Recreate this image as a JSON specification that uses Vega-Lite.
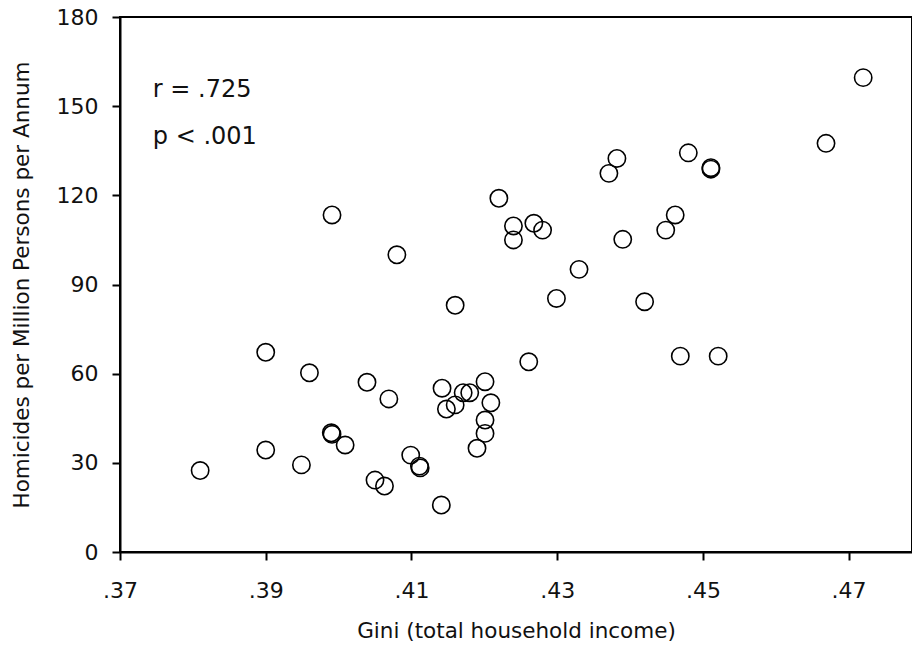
{
  "$schema": "https://vega.github.io/schema/vega-lite/v6.json",
  "width": 792,
  "height": 535,
  "autosize": {"type": "none"},
  "padding": {"left": 120, "top": 17, "right": 0, "bottom": 94},
  "background": "white",
  "config": {
    "view": {"stroke": "black", "strokeWidth": 2},
    "font": "DejaVu Sans",
    "axis": {
      "grid": false,
      "domainColor": "black",
      "domainWidth": 2,
      "tickColor": "black",
      "tickWidth": 2,
      "tickSize": 8,
      "labelColor": "#111",
      "titleColor": "#111",
      "labelFont": "DejaVu Sans",
      "titleFont": "DejaVu Sans",
      "titleFontWeight": "normal",
      "labelFontSize": 22,
      "titleFontSize": 21.5,
      "labelFlush": false,
      "labelOverlap": false
    }
  },
  "layer": [
    {
      "data": {
        "values": [
          {"gini": 0.381, "hom": 27.4},
          {"gini": 0.390, "hom": 67.2},
          {"gini": 0.390, "hom": 34.3},
          {"gini": 0.3949, "hom": 29.3},
          {"gini": 0.3960, "hom": 60.3},
          {"gini": 0.3991, "hom": 113.4},
          {"gini": 0.3990, "hom": 40.1},
          {"gini": 0.3991, "hom": 39.6},
          {"gini": 0.4009, "hom": 36.0},
          {"gini": 0.4039, "hom": 57.1},
          {"gini": 0.4050, "hom": 24.2},
          {"gini": 0.4063, "hom": 22.2},
          {"gini": 0.4069, "hom": 51.5},
          {"gini": 0.4080, "hom": 100.0},
          {"gini": 0.4099, "hom": 32.6},
          {"gini": 0.4111, "hom": 28.9},
          {"gini": 0.4112, "hom": 28.3},
          {"gini": 0.4141, "hom": 15.8},
          {"gini": 0.4142, "hom": 55.1},
          {"gini": 0.4148, "hom": 48.1},
          {"gini": 0.4160, "hom": 49.5},
          {"gini": 0.4160, "hom": 83.0},
          {"gini": 0.4171, "hom": 53.6},
          {"gini": 0.4180, "hom": 53.6},
          {"gini": 0.4190, "hom": 34.9},
          {"gini": 0.4201, "hom": 57.3},
          {"gini": 0.4209, "hom": 50.2},
          {"gini": 0.4201, "hom": 44.4},
          {"gini": 0.4201, "hom": 39.9},
          {"gini": 0.4220, "hom": 119.0},
          {"gini": 0.4240, "hom": 109.7},
          {"gini": 0.4240, "hom": 105.0},
          {"gini": 0.4261, "hom": 64.0},
          {"gini": 0.4268, "hom": 110.6},
          {"gini": 0.4280, "hom": 108.3},
          {"gini": 0.4299, "hom": 85.3},
          {"gini": 0.4330, "hom": 95.1},
          {"gini": 0.4371, "hom": 127.4},
          {"gini": 0.4382, "hom": 132.4},
          {"gini": 0.4390, "hom": 105.2},
          {"gini": 0.4420, "hom": 84.2},
          {"gini": 0.4449, "hom": 108.3},
          {"gini": 0.4462, "hom": 113.4},
          {"gini": 0.4469, "hom": 65.9},
          {"gini": 0.4480, "hom": 134.3},
          {"gini": 0.4511, "hom": 129.3},
          {"gini": 0.4511, "hom": 128.8},
          {"gini": 0.4521, "hom": 65.9},
          {"gini": 0.4669, "hom": 137.5},
          {"gini": 0.4720, "hom": 159.6}
        ]
      },
      "mark": {"type": "point", "shape": "circle", "filled": false, "size": 300, "stroke": "black", "strokeWidth": 1.6, "opacity": 1},
      "encoding": {
        "x": {
          "field": "gini",
          "type": "quantitative",
          "scale": {"domain": [0.37, 0.4787], "nice": false, "zero": false},
          "axis": {
            "title": "Gini (total household income)",
            "values": [0.37, 0.39, 0.41, 0.43, 0.45, 0.47],
            "labelExpr": "substring(format(datum.value, '.2f'), 1)",
            "labelPadding": 20,
            "titlePadding": 19
          }
        },
        "y": {
          "field": "hom",
          "type": "quantitative",
          "scale": {"domain": [0, 180], "nice": false},
          "axis": {
            "title": "Homicides per Million Persons per Annum",
            "values": [0, 30, 60, 90, 120, 150, 180],
            "labelPadding": 14,
            "titlePadding": 23
          }
        }
      }
    },
    {
      "data": {
        "values": [
          {"x": 0.3745, "y": 155.5, "t": "r = .725"},
          {"x": 0.3745, "y": 139.5, "t": "p < .001"}
        ]
      },
      "mark": {"type": "text", "align": "left", "baseline": "middle", "fontSize": 24, "font": "DejaVu Sans", "color": "#111"},
      "encoding": {
        "x": {"field": "x", "type": "quantitative"},
        "y": {"field": "y", "type": "quantitative"},
        "text": {"field": "t"}
      }
    }
  ]
}
